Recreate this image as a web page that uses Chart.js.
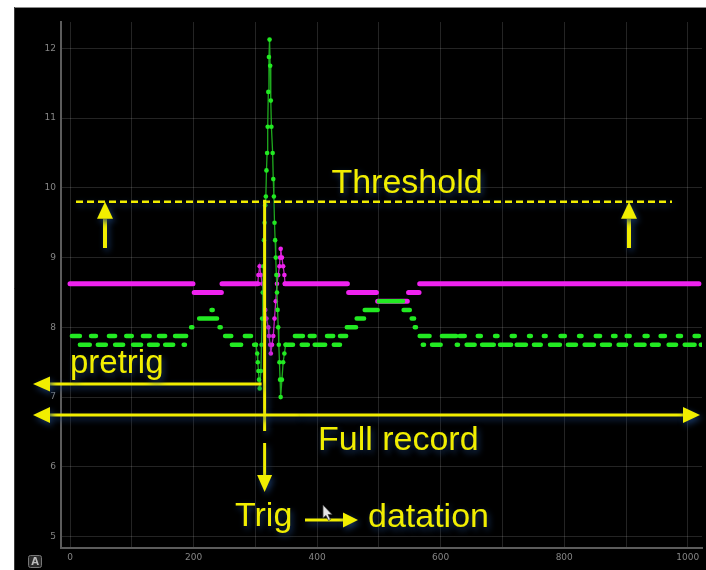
<!DOCTYPE html>
<html>
<head>
<meta charset="utf-8">
<script src="https://cdn.jsdelivr.net/npm/chart.js@4.4.1/dist/chart.umd.min.js"></script>
<style>
  html, body { margin: 0; padding: 0; background: #fff; overflow: hidden; }
  #wrap { position: relative; width: 706px; height: 570px; }
</style>
</head>
<body>
<div id="wrap"><canvas id="c" width="706" height="570"></canvas></div>
<script>
// Axis ticks (sample index / amplitude)
const xTicks = [0, 100, 200, 300, 400, 500, 600, 700, 800, 900, 1000];
const xLabelTicks = [0, 200, 400, 600, 800, 1000];
const yTicks = [5, 6, 7, 8, 9, 10, 11, 12];

// Trigger settings
const threshold = 9.8;
const trigSample = 315;

// Magenta channel: constant-level runs [firstSample, lastSample, level]
const magentaRuns = [
  [0, 199, 8.625], [201, 245, 8.5], [246, 304, 8.625],
  [348, 449, 8.625], [451, 496, 8.5], [498, 546, 8.375], [548, 565, 8.5], [566, 1018, 8.625]
];
// Magenta channel around the trigger
const magentaSpikeX = [304, 305, 307, 309, 311, 313, 316, 318, 321, 322, 324, 325, 327, 329, 331, 333, 335, 337, 339, 340, 341, 343, 345, 347, 348];
const magentaSpikeY = [8.625, 8.75, 8.875, 8.75, 8.625, 8.5, 8.25, 8.125, 8.0, 7.875, 7.75, 7.625, 7.75, 7.875, 8.125, 8.375, 8.625, 8.75, 8.875, 9.0, 9.125, 9.0, 8.875, 8.75, 8.625];

// Green channel: constant-level runs [firstSample, lastSample, level]
const greenRuns = [
  [3, 16, 7.875], [16, 32, 7.75], [34, 42, 7.875], [45, 58, 7.75], [63, 73, 7.875], [73, 86, 7.75],
  [91, 100, 7.875], [102, 115, 7.75], [118, 129, 7.875], [128, 142, 7.75], [144, 154, 7.875], [154, 167, 7.75],
  [170, 188, 7.875], [184, 186, 7.75],
  [196, 198, 8.0], [209, 238, 8.125], [229, 231, 8.25], [242, 244, 8.0],
  [251, 261, 7.875], [262, 277, 7.75], [283, 293, 7.875], [298, 301, 7.75],
  [349, 361, 7.75], [364, 377, 7.875], [375, 385, 7.75], [388, 396, 7.875], [396, 413, 7.75],
  [416, 426, 7.875], [427, 437, 7.75], [437, 447, 7.875],
  [448, 463, 8.0], [464, 476, 8.125], [477, 498, 8.25], [500, 539, 8.375], [540, 550, 8.25],
  [553, 557, 8.125], [558, 560, 8.0],
  [566, 582, 7.875], [571, 573, 7.75], [586, 600, 7.75], [602, 625, 7.875], [626, 628, 7.75],
  [631, 639, 7.875], [642, 655, 7.75], [660, 665, 7.875], [667, 686, 7.75], [688, 692, 7.875],
  [696, 714, 7.75], [715, 720, 7.875], [723, 738, 7.75], [743, 746, 7.875], [751, 762, 7.75],
  [767, 770, 7.875], [777, 793, 7.75], [794, 801, 7.875], [806, 819, 7.75], [824, 828, 7.875],
  [833, 848, 7.75], [851, 858, 7.875], [861, 874, 7.75], [879, 883, 7.875], [888, 900, 7.75],
  [901, 906, 7.875], [916, 930, 7.75], [930, 935, 7.875], [942, 953, 7.75], [956, 963, 7.875],
  [969, 981, 7.75], [984, 989, 7.875], [995, 1011, 7.75], [1011, 1018, 7.875], [1021, 1023, 7.75]
];
// Green channel around the trigger (the pulse)
const greenSpikeX = [301, 303, 304, 305, 306, 307, 309, 310, 311, 312, 313, 314, 315, 316, 317, 318, 319, 320, 321, 322, 323,
  324, 325, 326, 328, 329, 330, 331, 332, 333, 334, 335, 336, 337, 338, 339, 340, 341, 343, 345, 347, 349];
const greenSpikeY = [7.75, 7.625, 7.5, 7.375, 7.25, 7.125, 7.375, 7.75, 8.125, 8.5, 8.875, 9.25, 9.5, 9.75, 9.875, 10.25, 10.5, 10.875, 11.375, 11.875, 12.125,
  11.75, 11.25, 10.875, 10.5, 10.125, 9.875, 9.5, 9.25, 9.0, 8.75, 8.5, 8.25, 8.0, 7.75, 7.5, 7.25, 7.0, 7.25, 7.5, 7.625, 7.75];

const YEL = '#f1ee00';
const GREEN = '#22ea22';
const MAGENTA = '#ef22ef';

// Turn level runs into line points separated by gaps
function runsToPoints(runs) {
  const pts = [];
  runs.slice().sort((a, b) => a[0] - b[0]).forEach(([a, b, v]) => {
    pts.push({ x: a, y: v }, { x: b, y: v }, { x: b, y: null });
  });
  return pts;
}
const zip = (xs, ys) => xs.map((v, i) => ({ x: v, y: ys[i] }));

// Dark panel behind the plot
const panel = {
  id: 'panel',
  beforeDraw(chart) {
    const ctx = chart.ctx;
    ctx.save();
    ctx.fillStyle = '#ffffff';
    ctx.fillRect(0, 0, 706, 570);
    ctx.fillStyle = '#000000';
    ctx.fillRect(14, 7, 692, 563);
    ctx.strokeStyle = '#8a8a8a';
    ctx.lineWidth = 1;
    ctx.beginPath(); ctx.moveTo(14, 7.5); ctx.lineTo(706, 7.5); ctx.stroke();
    ctx.strokeStyle = '#3a3a3a';
    ctx.beginPath(); ctx.moveTo(14.5, 7); ctx.lineTo(14.5, 570); ctx.stroke();
    ctx.restore();
  }
};

function arrow(ctx, x1, y1, x2, y2, lw, headLen, headHalf) {
  const ang = Math.atan2(y2 - y1, x2 - x1);
  const bx = x2 - Math.cos(ang) * headLen, by = y2 - Math.sin(ang) * headLen;
  ctx.lineWidth = lw;
  ctx.beginPath(); ctx.moveTo(x1, y1); ctx.lineTo(bx, by); ctx.stroke();
  const nx = -Math.sin(ang) * headHalf, ny = Math.cos(ang) * headHalf;
  ctx.beginPath();
  ctx.moveTo(x2, y2); ctx.lineTo(bx + nx, by + ny); ctx.lineTo(bx - nx, by - ny);
  ctx.closePath(); ctx.fill();
}

// Yellow trigger annotations
const annot = {
  id: 'annot',
  afterDatasetsDraw(chart) {
    const { ctx, scales: { x, y } } = chart;
    const ty = y.getPixelForValue(threshold);
    const tx = x.getPixelForValue(trigSample);
    ctx.save();
    ctx.fillStyle = YEL; ctx.strokeStyle = YEL;
    ctx.shadowColor = 'rgba(25,60,110,0.9)';
    ctx.shadowBlur = 6; ctx.shadowOffsetX = 2; ctx.shadowOffsetY = 3;
    ctx.lineCap = 'butt';

    // threshold level
    ctx.lineWidth = 2.5;
    ctx.setLineDash([7, 4]);
    ctx.beginPath(); ctx.moveTo(76, ty); ctx.lineTo(672, ty); ctx.stroke();
    ctx.setLineDash([]);
    arrow(ctx, 105, 248, 105, ty, 4, 17, 8);
    arrow(ctx, 629, 248, 629, ty, 4, 17, 8);

    // trigger instant
    ctx.lineWidth = 3;
    ctx.beginPath(); ctx.moveTo(tx, ty - 2); ctx.lineTo(tx, 431); ctx.stroke();
    arrow(ctx, tx, 443, tx, 492, 3, 17, 7.5);

    // pre-trigger span
    arrow(ctx, tx - 3, 384, 33, 384, 3, 17, 7.5);

    // full record span
    arrow(ctx, 300, 415, 33, 415, 3, 17, 8);
    arrow(ctx, 300, 415, 700, 415, 3, 17, 8);

    // trig -> datation
    arrow(ctx, 305, 520, 358, 520, 3, 15, 7.5);

    ctx.font = '34px "Liberation Sans", Arial, sans-serif';
    ctx.textBaseline = 'alphabetic';
    ctx.textAlign = 'center';
    ctx.fillText('Threshold', 407, 193);
    ctx.textAlign = 'left';
    ctx.fillText('Full record', 318, 450);
    ctx.fillText('Trig', 235, 526);
    ctx.fillText('datation', 368, 527);
    ctx.font = '33px "Liberation Sans", Arial, sans-serif';
    ctx.fillText('pretrig', 70, 373);
    ctx.restore();

    // mouse pointer
    ctx.save();
    ctx.fillStyle = '#e6e6e6'; ctx.strokeStyle = '#444'; ctx.lineWidth = 0.8;
    ctx.beginPath();
    ctx.moveTo(323, 505); ctx.lineTo(323, 518); ctx.lineTo(326, 515.5); ctx.lineTo(328.5, 520.5);
    ctx.lineTo(330.5, 519.5); ctx.lineTo(328, 514.5); ctx.lineTo(332, 514.5); ctx.closePath();
    ctx.fill(); ctx.stroke();

    // corner badge
    ctx.fillStyle = '#2a2a2a'; ctx.strokeStyle = '#777';
    ctx.lineWidth = 1;
    ctx.beginPath(); ctx.roundRect(28.5, 555.5, 13, 12, 2); ctx.fill(); ctx.stroke();
    ctx.fillStyle = '#bbb';
    ctx.font = 'bold 10px "DejaVu Sans", sans-serif';
    ctx.textAlign = 'center'; ctx.textBaseline = 'middle';
    ctx.fillText('A', 35, 562);
    ctx.restore();
  }
};

const tickFont = { size: 9, family: '"DejaVu Sans", sans-serif' };

new Chart(document.getElementById('c'), {
  type: 'line',
  data: {
    datasets: [
      {
        label: 'green pulse', order: 0,
        data: zip(greenSpikeX, greenSpikeY),
        borderColor: 'rgba(34,190,34,0.9)', borderWidth: 1.3,
        pointRadius: 2.3, pointBackgroundColor: GREEN, pointBorderWidth: 0,
        tension: 0
      },
      {
        label: 'green', order: 1,
        data: runsToPoints(greenRuns),
        borderColor: GREEN, borderWidth: 4.5, borderCapStyle: 'round',
        pointRadius: 0, spanGaps: false, tension: 0
      },
      {
        label: 'magenta pulse', order: 2,
        data: zip(magentaSpikeX, magentaSpikeY),
        borderColor: 'rgba(230,40,230,0.85)', borderWidth: 1.3,
        pointRadius: 2.3, pointBackgroundColor: MAGENTA, pointBorderWidth: 0,
        tension: 0
      },
      {
        label: 'magenta', order: 3,
        data: runsToPoints(magentaRuns),
        borderColor: MAGENTA, borderWidth: 5, borderCapStyle: 'round',
        pointRadius: 0, spanGaps: false, tension: 0
      }
    ]
  },
  options: {
    responsive: false,
    animation: false,
    devicePixelRatio: 1,
    events: [],
    layout: { padding: { left: 14, top: 22, right: 4, bottom: 0 } },
    plugins: { legend: { display: false }, tooltip: { enabled: false } },
    scales: {
      x: {
        type: 'linear', min: -14.6, max: 1023,
        afterBuildTicks: s => { s.ticks = xTicks.map(v => ({ value: v })); },
        afterFit: s => { s.height = 22; },
        grid: { color: 'rgba(255,255,255,0.14)', lineWidth: 1, drawTicks: false },
        border: { display: true, color: '#5c5c5c', width: 2 },
        ticks: {
          autoSkip: false, maxRotation: 0, padding: 4, color: '#858585', font: tickFont,
          callback: v => (xLabelTicks.includes(v) ? String(v) : '')
        }
      },
      y: {
        type: 'linear', min: 4.837, max: 12.377,
        afterBuildTicks: s => { s.ticks = yTicks.map(v => ({ value: v })); },
        afterFit: s => { s.width = 47; },
        grid: { color: 'rgba(255,255,255,0.14)', lineWidth: 1, drawTicks: false },
        border: { display: true, color: '#5c5c5c', width: 2 },
        ticks: { padding: 5, color: '#858585', font: tickFont, callback: v => String(v) }
      }
    }
  },
  plugins: [panel, annot]
});
</script>
</body>
</html>
